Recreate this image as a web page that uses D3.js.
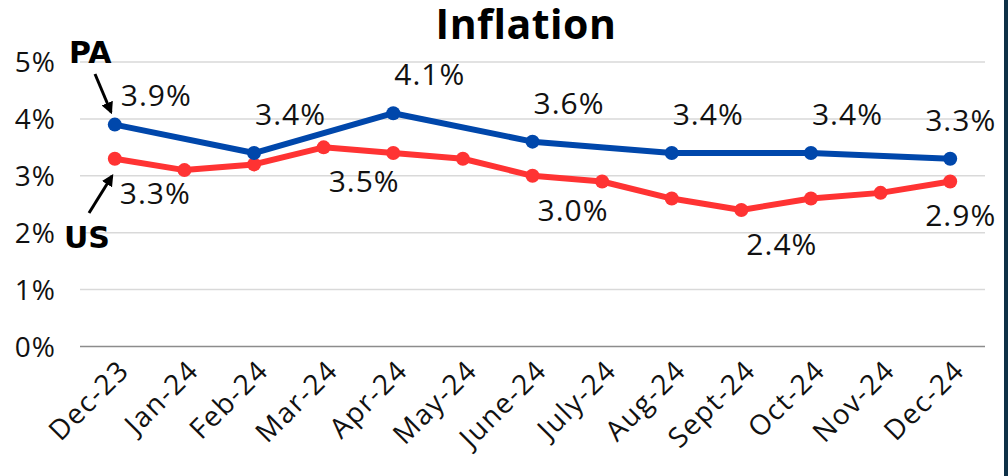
<!DOCTYPE html>
<html>
<head>
<meta charset="utf-8">
<script src="https://cdn.jsdelivr.net/npm/d3@7"></script>
<style>
  body { margin: 0; background: #fff; }
  svg { display: block; font-family: "Open Sans", "Noto Sans", sans-serif; }
</style>
</head>
<body>
<script>
const months = ["Dec-23", "Jan-24", "Feb-24", "Mar-24", "Apr-24", "May-24", "June-24",
    "July-24", "Aug-24", "Sept-24", "Oct-24", "Nov-24", "Dec-24"]
const us = [3.3, 3.1, 3.2, 3.5, 3.4, 3.3, 3.0, 2.9, 2.6, 2.4, 2.6, 2.7, 2.9]
// PA is reported every other month
const paMonths = ["Dec-23", "Feb-24", "Apr-24", "June-24", "Aug-24", "Oct-24", "Dec-24"]
const pa = [3.9, 3.4, 4.1, 3.6, 3.4, 3.4, 3.3]
const usLabeled = ["Dec-23", "Mar-24", "June-24", "Sept-24", "Dec-24"]
const yTicks = [0, 1, 2, 3, 4, 5]

const width = 1008
const height = 476

const svg = d3.select("body")
    .append("svg")
    .attr("width", width)
    .attr("height", height)

const x = d3.scalePoint()
    .domain(months)
    .range([80, 985])
    .padding(0.5)

const y = d3.scaleLinear()
    .domain([0, 5])
    .range([346.5, 62])

// grid
svg.append("g")
    .selectAll("line")
    .data(yTicks)
    .join("line")
    .attr("x1", 80)
    .attr("x2", 985)
    .attr("y1", (d) => y(d))
    .attr("y2", (d) => y(d))
    .attr("stroke", (d) => d === 0 ? "#8c8c8c" : "#d9d9d9")
    .attr("stroke-width", 1.5)

// y labels
svg.append("g")
    .selectAll("text")
    .data(yTicks)
    .join("text")
    .attr("x", 56)
    .attr("y", (d) => y(d) + 10)
    .attr("text-anchor", "end")
    .attr("font-size", 28)
    .attr("letter-spacing", 1)
    .attr("fill", "#111")
    .text((d) => d + "%")

// x labels
svg.append("g")
    .selectAll("text")
    .data(months)
    .join("text")
    .attr("text-anchor", "end")
    .attr("font-size", 28)
    .attr("letter-spacing", 1.5)
    .attr("fill", "#111")
    .attr("transform", (d) => `translate(${x(d) + 16},${372}) rotate(-45)`)
    .text((d) => d)

const line = d3.line()

const usPts = months.map((m, i) => [x(m), y(us[i])])
const paPts = paMonths.map((m, i) => [x(m), y(pa[i])])

svg.append("path")
    .attr("d", line(usPts))
    .attr("fill", "none")
    .attr("stroke", "#ff3333")
    .attr("stroke-width", 6)
    .attr("stroke-linejoin", "round")
svg.append("g")
    .selectAll("circle")
    .data(usPts)
    .join("circle")
    .attr("cx", (d) => d[0])
    .attr("cy", (d) => d[1])
    .attr("r", 7)
    .attr("fill", "#ff3333")

svg.append("path")
    .attr("d", line(paPts))
    .attr("fill", "none")
    .attr("stroke", "#0047ab")
    .attr("stroke-width", 6)
    .attr("stroke-linejoin", "round")
svg.append("g")
    .selectAll("circle")
    .data(paPts)
    .join("circle")
    .attr("cx", (d) => d[0])
    .attr("cy", (d) => d[1])
    .attr("r", 7)
    .attr("fill", "#0047ab")

const last = months[months.length - 1]
const first = months[0]

// PA value labels (above)
svg.append("g")
    .selectAll("text")
    .data(paMonths)
    .join("text")
    .attr("x", (m) => m === last ? x(m) + 46 : m === first ? x(m) + 6 : x(m) + 1)
    .attr("y", (m, i) => y(pa[i]) - (m === first ? 19 : 28))
    .attr("text-anchor", (m) => m === last ? "end" : "start")
    .attr("font-size", 30)
    .attr("letter-spacing", 1)
    .attr("fill", "#111")
    .text((m, i) => pa[i].toFixed(1) + "%")

// US value labels (below)
svg.append("g")
    .selectAll("text")
    .data(usLabeled)
    .join("text")
    .attr("x", (m) => m === last ? x(m) + 46 : x(m) + 5)
    .attr("y", (m) => y(us[months.indexOf(m)]) + 45)
    .attr("text-anchor", (m) => m === last ? "end" : "start")
    .attr("font-size", 30)
    .attr("letter-spacing", 1)
    .attr("fill", "#111")
    .text((m) => us[months.indexOf(m)].toFixed(1) + "%")

// title
svg.append("text")
    .attr("x", 526)
    .attr("y", 39)
    .attr("text-anchor", "middle")
    .attr("font-size", 41)
    .attr("font-weight", 700)
    .attr("letter-spacing", 0.5)
    .attr("fill", "#000")
    .text("Inflation")

// series callouts with arrows
svg.append("defs")
    .append("marker")
    .attr("id", "arr")
    .attr("viewBox", "0 0 10 10")
    .attr("refX", 8)
    .attr("refY", 5)
    .attr("markerWidth", 4)
    .attr("markerHeight", 4)
    .attr("orient", "auto")
    .append("path")
    .attr("d", "M0,0 L10,5 L0,10 z")
    .attr("fill", "#000")

svg.append("text")
    .attr("x", 69)
    .attr("y", 63)
    .attr("font-family", "DejaVu Sans, sans-serif")
    .attr("font-size", 30)
    .attr("font-weight", 700)
    .text("PA")
svg.append("line")
    .attr("x1", 95).attr("y1", 74)
    .attr("x2", 111).attr("y2", 112)
    .attr("stroke", "#000")
    .attr("stroke-width", 3)
    .attr("marker-end", "url(#arr)")

svg.append("text")
    .attr("x", 64)
    .attr("y", 248)
    .attr("font-family", "DejaVu Sans, sans-serif")
    .attr("font-size", 30)
    .attr("font-weight", 700)
    .text("US")
svg.append("line")
    .attr("x1", 89).attr("y1", 213)
    .attr("x2", 112).attr("y2", 176)
    .attr("stroke", "#000")
    .attr("stroke-width", 3)
    .attr("marker-end", "url(#arr)")

// dark edge strip on the right
svg.append("rect")
    .attr("x", 1004)
    .attr("y", 0)
    .attr("width", 4)
    .attr("height", height)
    .attr("fill", "#0e3147")
</script>
</body>
</html>
